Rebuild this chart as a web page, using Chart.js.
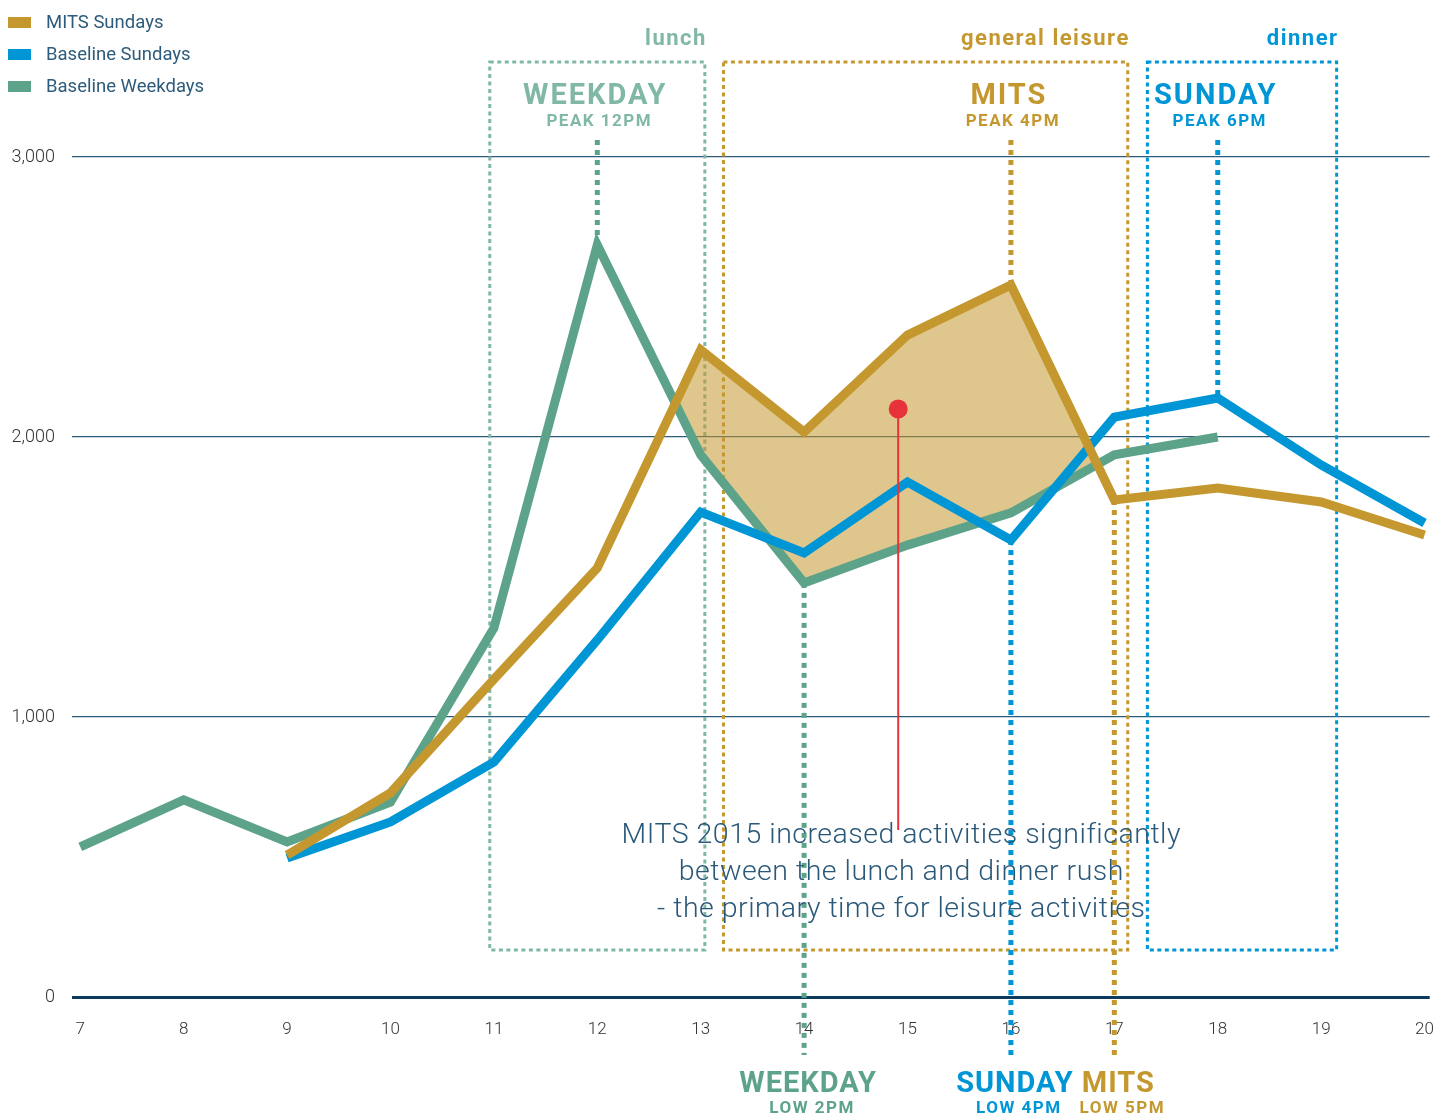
<!DOCTYPE html>
<html>
<head>
<meta charset="utf-8">
<script src="https://cdn.jsdelivr.net/npm/chart.js@4.4.1/dist/chart.umd.min.js"></script>
<style>
  body { margin: 0; background: #fff; }
  #wrap { position: relative; width: 1449px; height: 1119px; }
  #legend { position: absolute; left: 8px; top: 6px; font: 18.5px Roboto, sans-serif; color: #2e5b7b; }
  #legend div { height: 32px; display: flex; align-items: center; }
  #legend .box { display: inline-block; width: 23px; height: 11px; margin-right: 15px; }
</style>
</head>
<body>
<div id="wrap">
  <canvas id="chart"></canvas>
  <div id="legend"></div>
</div>
<script>
// hours of the day on the x axis
const hours = [7, 8, 9, 10, 11, 12, 13, 14, 15, 16, 17, 18, 19, 20];
const yTicks = [0, 1000, 2000, 3000];

// Baseline Weekdays: 7h - 18h
const weekdayHours = hours.slice(0, 12);
const weekdayValues = [536, 704, 554, 696, 1318, 2686, 1936, 1479, 1614, 1729, 1936, 2000];
// Baseline Sundays: 9h - 20h
const sundayHours = hours.slice(2);
const sundayValues = [496, 625, 839, 1275, 1732, 1586, 1839, 1632, 2071, 2139, 1900, 1693];
// MITS Sundays: 9h - 20h
const mitsHours = hours.slice(2);
const mitsValues = [507, 729, 1135, 1532, 2311, 2018, 2364, 2543, 1775, 1818, 1768, 1650];

const GOLD = '#c4982f';
const BLUE = '#0096d6';
const GREEN = '#5da38a';
const GREEN_LIGHT = '#80b8a5';

const pts = (xs, ys) => xs.map((x, i) => ({ x: x, y: ys[i] }));

// shaded part: MITS above weekdays between lunch and dinner
const fillFrom = mitsHours.indexOf(12), fillTo = mitsHours.indexOf(17) + 1;

const datasets = [
  { label: 'MITS Sundays', data: pts(mitsHours, mitsValues), borderColor: GOLD, backgroundColor: GOLD },
  { label: 'Baseline Sundays', data: pts(sundayHours, sundayValues), borderColor: BLUE, backgroundColor: BLUE },
  { label: 'Baseline Weekdays', data: pts(weekdayHours, weekdayValues), borderColor: GREEN, backgroundColor: GREEN },
  {
    label: 'gap', data: pts(mitsHours.slice(fillFrom, fillTo), mitsValues.slice(fillFrom, fillTo)),
    borderWidth: 0, order: 10,
    fill: { target: 2, above: 'rgba(196,152,47,0.55)', below: 'rgba(0,0,0,0)' }
  }
];
datasets.slice(0, 3).forEach(d => { d.borderWidth = 9; d.fill = false; });

// peaks and lows pointed out on the chart: [dataset index, hour, title, sub, colour]
const peaks = [
  [2, 12, 'WEEKDAY', 'PEAK 12PM', GREEN_LIGHT],
  [0, 16, 'MITS', 'PEAK 4PM', GOLD],
  [1, 18, 'SUNDAY', 'PEAK 6PM', BLUE]
];
const lows = [
  [2, 14, 'WEEKDAY', 'LOW 2PM', GREEN],
  [1, 16, 'SUNDAY', 'LOW 4PM', BLUE],
  [0, 17, 'MITS', 'LOW 5PM', GOLD]
];
const periods = [
  [10.96, 13.04, 'lunch', GREEN_LIGHT],
  [13.22, 17.13, 'general leisure', GOLD],
  [17.32, 19.15, 'dinner', BLUE]
];
const note = ['MITS 2015 increased activities significantly',
  'between the lunch and dinner rush',
  '- the primary time for leisure activities'];

function text(ctx, str, x, y, font, color, align, spacing) {
  ctx.save();
  ctx.font = font;
  ctx.fillStyle = color;
  ctx.textAlign = align || 'center';
  ctx.textBaseline = 'middle';
  ctx.letterSpacing = spacing || '0px';
  ctx.fillText(str, x, y);
  ctx.restore();
}

function dotted(ctx, x0, y0, x1, y1, color, width, dash) {
  ctx.save();
  ctx.strokeStyle = color;
  ctx.lineWidth = width;
  ctx.setLineDash(dash);
  ctx.beginPath();
  ctx.moveTo(x0, y0);
  ctx.lineTo(x1, y1);
  ctx.stroke();
  ctx.restore();
}

function pointOf(chart, ds, hour) {
  const meta = chart.getDatasetMeta(ds);
  const i = chart.data.datasets[ds].data.findIndex(p => p.x === hour);
  return meta.data[i];
}

const annotations = {
  id: 'annotations',
  beforeDatasetsDraw(chart) {
    const { ctx, chartArea, scales: { x, y } } = chart;
    const top = chartArea.top - 95, bottom = y.getPixelForValue(168);
    periods.forEach(([a, b, label, color]) => {
      const x0 = x.getPixelForValue(a), x1 = x.getPixelForValue(b);
      ctx.save();
      ctx.strokeStyle = color;
      ctx.lineWidth = 3;
      ctx.setLineDash([4, 3.5]);
      ctx.strokeRect(x0, top, x1 - x0, bottom - top);
      ctx.restore();
      text(ctx, label, x1 + 2, chartArea.top - 118, 'bold 22px Roboto', color, 'right', '1.5px');
    });
    peaks.forEach(([ds, hour, title, sub, color]) => {
      const p = pointOf(chart, ds, hour);
      dotted(ctx, p.x, chartArea.top - 17, p.x, p.y, color === GREEN_LIGHT ? GREEN : color, 5, [5, 5]);
      text(ctx, title, p.x - 2, chartArea.top - 60, 'bold 29px Roboto', color, 'center', '2px');
      text(ctx, sub, p.x + 2, chartArea.top - 35, 'bold 17px Roboto', color, 'center', '1.5px');
    });
    lows.forEach(([ds, hour, title, sub, color]) => {
      const p = pointOf(chart, ds, hour);
      dotted(ctx, p.x, p.y, p.x, chartArea.bottom + 58, color, 5, [5, 5]);
    });
  },
  afterDatasetsDraw(chart) {
    const { ctx, chartArea, scales: { x, y } } = chart;
    lows.forEach(([ds, hour, title, sub, color]) => {
      const p = pointOf(chart, ds, hour);
      text(ctx, title, p.x + 4, chartArea.bottom + 88, 'bold 29px Roboto', color, 'center', '1px');
      text(ctx, sub, p.x + 8, chartArea.bottom + 112, 'bold 17px Roboto', color, 'center', '1.5px');
    });
    // red marker
    const mx = x.getPixelForValue(14.91), my = y.getPixelForValue(2100);
    ctx.save();
    ctx.strokeStyle = '#e8323a';
    ctx.lineWidth = 2;
    ctx.beginPath();
    ctx.moveTo(mx, my);
    ctx.lineTo(mx, y.getPixelForValue(596));
    ctx.stroke();
    ctx.fillStyle = '#e8323a';
    ctx.beginPath();
    ctx.arc(mx, my, 9.5, 0, Math.PI * 2);
    ctx.fill();
    ctx.restore();
    note.forEach((line, i) => {
      text(ctx, line, x.getPixelForValue(14.94), y.getPixelForValue(585) + 3 + i * 37, '300 28.5px Roboto', '#2a5878', 'center', '0.5px');
    });
  }
};

const chart = new Chart(document.getElementById('chart'), {
  type: 'line',
  data: { datasets: datasets },
  options: {
    responsive: true,
    maintainAspectRatio: false,
    animation: false,
    layout: { padding: { top: 157, right: 10, bottom: 77, left: 0 } },
    elements: {
      point: { radius: 0, hoverRadius: 0 },
      line: { tension: 0, borderJoinStyle: 'miter', borderCapStyle: 'butt' }
    },
    plugins: { legend: { display: false }, tooltip: { enabled: false } },
    scales: {
      x: {
        type: 'linear', min: 6.92, max: 20.05,
        afterBuildTicks: s => { s.ticks = hours.map(v => ({ value: v })); },
        afterFit: s => { s.height = 45; },
        grid: { display: false },
        border: { display: false },
        ticks: { color: '#333', font: { family: 'Roboto', size: 17, weight: '300' }, padding: 15 }
      },
      y: {
        min: 0, max: 3000,
        afterBuildTicks: s => { s.ticks = yTicks.map(v => ({ value: v })); },
        afterFit: s => { s.width = 72; },
        border: { display: false },
        grid: {
          drawTicks: false,
          color: c => c.tick && c.tick.value === 0 ? '#0c3b5e' : '#2d5b7a',
          lineWidth: c => c.tick && c.tick.value === 0 ? 3 : 1.3
        },
        ticks: {
          color: '#333', font: { family: 'Roboto', size: 18, weight: '300' }, padding: 17,
          callback: v => v.toLocaleString('en-US')
        }
      }
    }
  },
  plugins: [annotations]
});

// legend in the top-left corner
const legend = document.getElementById('legend');
chart.data.datasets.slice(0, 3).forEach(d => {
  const row = document.createElement('div');
  const box = document.createElement('span');
  box.className = 'box';
  box.style.background = d.borderColor;
  row.appendChild(box);
  row.appendChild(document.createTextNode(d.label));
  legend.appendChild(row);
});
</script>
</body>
</html>
